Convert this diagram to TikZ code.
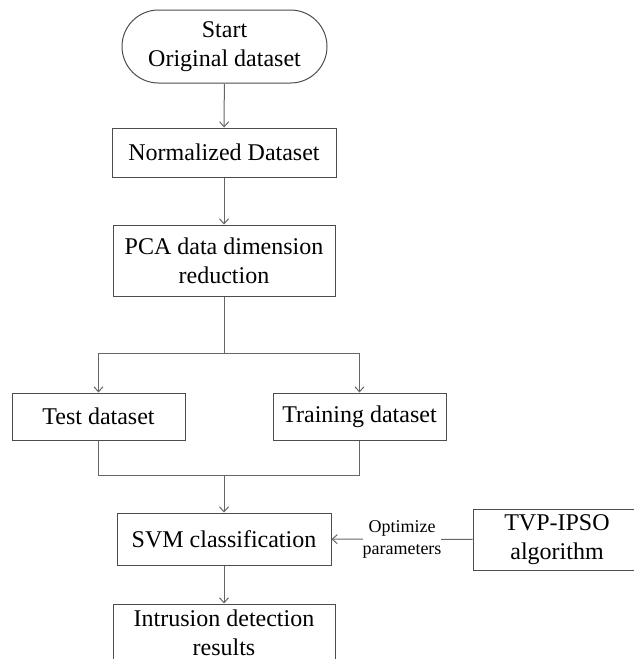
\documentclass[tikz,border=0pt]{standalone}
\usepackage{fontspec}
\setmainfont{Liberation Serif}
\usepackage{tikz}
\usetikzlibrary{arrows.meta}

\begin{document}
\begin{tikzpicture}[x=1pt, y=-1pt,
        box/.style={rectangle, draw=black!70, line width=1pt, inner sep=0pt, align=center, font=\fontsize{24}{29}\selectfont},
        link/.style={draw=black!60, line width=1pt},
        arr/.style={link, -{Straight Barb[length=5pt, width=9pt]}}]
            \useasboundingbox (0, 0) rectangle (634, 659);
            \clip (0, 0) rectangle (634, 659);

            \node[box, rounded corners=36.5pt, minimum width=205pt, minimum height=73pt] (start) at (224.5, 46.5) {Start\\Original dataset};
            \node[box, minimum width=224pt, minimum height=49pt] (norm) at (224, 152.5) {Normalized Dataset};
            \node[box, minimum width=222pt, minimum height=71pt] (pca) at (224, 260.5) {PCA data dimension\\reduction};
            \node[box, minimum width=173pt, minimum height=47pt] (test) at (98.5, 416.5) {Test dataset};
            \node[box, minimum width=173pt, minimum height=47pt] (train) at (359.5, 416.5) {Training dataset};
            \node[box, minimum width=214pt, minimum height=52pt] (svm) at (224, 539) {SVM classification};
            % runs off the right edge of the page
            \node[box, minimum width=168pt, minimum height=61pt] (tvp) at (557, 539.5) {TVP-IPSO\\algorithm};
            \node[box, minimum width=222pt, minimum height=58pt] (result) at (224, 633) {Intrusion detection\\results};

            \coordinate (split) at (224, 353);
            \coordinate (merge) at (224, 475);

            \draw[arr] (start) -- (norm);
            \draw[arr] (norm) -- (pca);
            \draw[link] (pca) -- (split);
            \draw[arr] (split) -| (test);
            \draw[arr] (split) -| (train);
            \draw[link] (test) |- (merge);
            \draw[link] (train) |- (merge);
            \draw[arr] (merge) -- (svm);
            \draw[arr] (tvp) -- node[fill=white, inner sep=0pt, align=center, font=\fontsize{18}{22}\selectfont] (opt) {Optimize\\parameters} (svm);
            \draw[arr] (svm) -- (result);
        \end{tikzpicture}
\end{document}
